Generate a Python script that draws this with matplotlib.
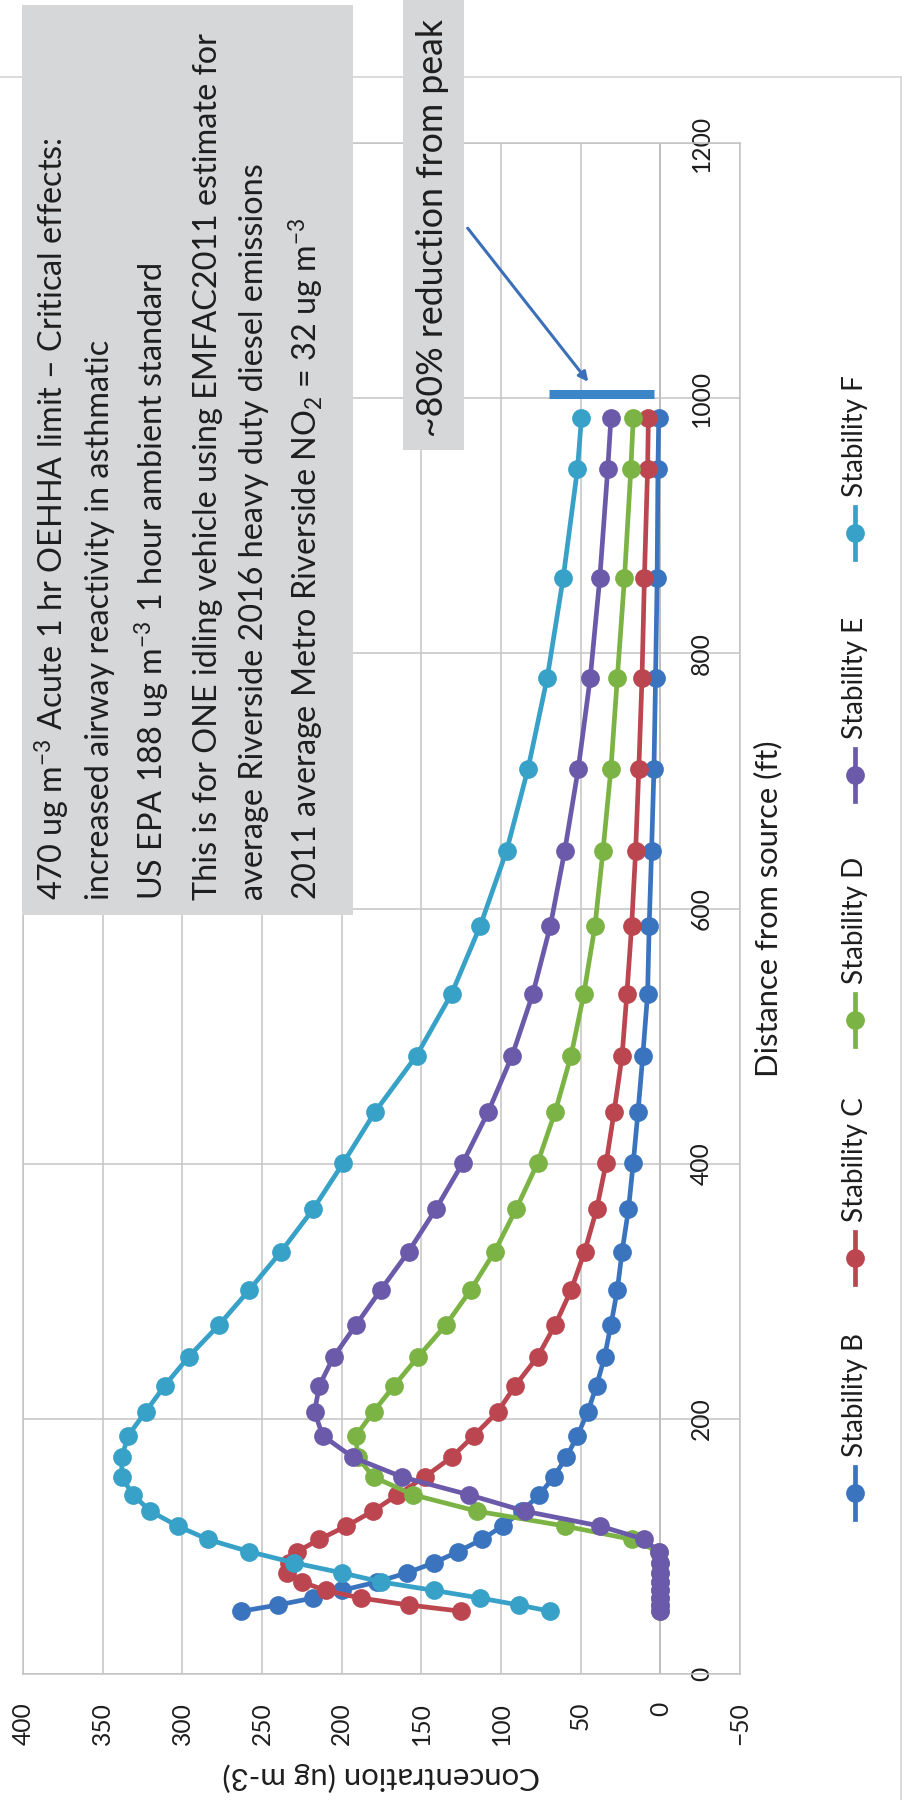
import matplotlib
matplotlib.use("Agg")
import matplotlib.pyplot as plt
from matplotlib.patches import Rectangle
from matplotlib.lines import Line2D

# distance from source (ft) -- same sampling for every stability class
distance_ft = [49.2, 54.1, 59.5, 65.5, 72.1, 79.3, 87.2, 95.9, 105.5, 116.0, 127.6,
               140.4, 154.4, 169.9, 186.9, 205.6, 226.1, 248.7, 273.6, 301.0, 331.1,
               364.2, 400.6, 440.7, 484.7, 533.2, 586.5, 645.2, 709.7, 780.7, 858.8,
               944.6, 984.3]

# concentration (ug m-3)
stab_b = [263, 240, 218, 200, 178, 159, 142, 127, 112, 99, 87, 76, 67, 59, 52, 45.5,
          40, 35, 31, 27, 24, 20, 17, 14, 11, 8, 7, 5.5, 4, 3, 2, 1.5, 1]
stab_c = [125, 158, 188, 210, 225, 234, 233, 228, 214, 197, 180.5, 165, 148, 131, 117,
          102, 91, 77, 66, 56, 47.5, 40, 34, 29, 24, 21, 18, 15.5, 13.5, 11.5, 10, 8, 7.5]
stab_d = [0, 0, 0, 0, 0, 0, 0, 1, 18, 60, 115, 155, 180, 190, 191, 180, 167, 152, 134.6,
          119, 104, 90.6, 77, 66, 56, 48, 41, 36, 31, 27, 22.5, 18.5, 17]
stab_e = [0, 0, 0, 0, 0, 0, 0, 1, 10, 38, 85, 120, 162, 193, 212, 217, 214, 205, 191,
          175.5, 158, 141, 124, 108, 93, 80, 69, 60, 51.5, 44, 38, 33, 31]
stab_f = [69, 89, 113, 142, 175, 200, 230, 258, 284, 303, 320, 331, 338, 338, 334, 323,
          311, 296, 277, 258, 238, 218, 199, 179, 153, 131, 113, 96.5, 83, 71, 61, 52, 49.5]

series_names = ["Stability B", "Stability C", "Stability D", "Stability E", "Stability F"]
series_colors = ["#3B74BE", "#BC4650", "#7BB444", "#6B5AAA", "#38A1C7"]

conc_ticks = [-50, 0, 50, 100, 150, 200, 250, 300, 350, 400]
dist_ticks = [0, 200, 400, 600, 800, 1000, 1200]

# the "~80% reduction" bar at 1000 ft
bar_dist = 1003
bar_conc = [70, 4]

box_lines = [
    "470 ug m$^{-3}$ Acute 1 hr OEHHA limit \u2013 Critical effects:",
    "increased airway reactivity in asthmatic",
    "US EPA 188 ug m$^{-3}$ 1 hour ambient standard",
    "This is for ONE idling vehicle using EMFAC2011 estimate for",
    "average Riverside 2016 heavy duty diesel emissions",
    "2011 average Metro Riverside NO$_2$ = 32 ug m$^{-3}$",
]
peak_note = "~80% reduction from peak"

plt.rcParams['font.family'] = ['Lato', 'DejaVu Sans']
plt.rcParams['mathtext.fontset'] = 'custom'
plt.rcParams['mathtext.rm'] = 'Lato'
plt.rcParams['mathtext.it'] = 'Lato:italic'
plt.rcParams['mathtext.bf'] = 'Lato:bold'
ink = "#1E1E1E"

W, H = 903, 1800
fig = plt.figure(figsize=(W / 100, H / 100), dpi=100)
renderer = fig.canvas.get_renderer()


def fx(px):
    return px / W


def fy(py):
    return 1 - py / H


def fit_size(text, target_px, trial=20.0):
    # font size that gives the text the wanted length in pixels
    t = fig.text(0, 0, text, fontsize=trial)
    w = t.get_window_extent(renderer).width
    t.remove()
    return trial * target_px / w


tick_fs = fit_size("1200", 57)
legend_fs = fit_size("Stability B", 124)
ylab_fs = fit_size("Distance from source (ft)", 337)
xlab_fs = fit_size("Concentration (ug m-3)", 318)
box_fs = fit_size(box_lines[3], 866)
note_fs = fit_size(peak_note, 418)

# outer chart border (top and right)
fig.add_artist(Line2D([0, fx(901)], [fy(77), fy(77)], color="#D4D4D4", lw=1.2))
fig.add_artist(Line2D([fx(901), fx(901)], [fy(77), 0], color="#D4D4D4", lw=1.2))

ax = fig.add_axes([fx(23), fy(1674), (740 - 23) / W, (1674 - 143) / H])
ax.set_facecolor("white")

series = [stab_b, stab_c, stab_d, stab_e, stab_f]
for vals, name, col in zip(series, series_names, series_colors):
    ax.plot(vals, distance_ft, color=col, lw=3.4, marker="o", ms=13.5,
            markeredgewidth=0, label=name, zorder=3)

ax.set_xlim(400, -50)
ax.set_ylim(0, 1200)
ax.set_xticks(conc_ticks)
ax.set_yticks(dist_ticks)
ax.grid(True, color="#C3C3C3", lw=1.1, zorder=0)
ax.axvline(0, color="#A8A8A8", lw=1.3, zorder=1)
for s in ax.spines.values():
    s.set_color("#C3C3C3")
    s.set_linewidth(1.1)

ax.yaxis.tick_right()
ax.tick_params(axis="x", length=0, pad=20, labelrotation=90, labelsize=tick_fs, colors=ink)
ax.tick_params(axis="y", length=0, pad=-36, labelrotation=90, labelsize=tick_fs, colors=ink)
for lab in ax.get_yticklabels():
    lab.set_verticalalignment("center")

ax.set_xlabel("Concentration (ug m-3)", fontsize=xlab_fs, rotation=180, color=ink)
ax.xaxis.label.set(va="center", ha="center")
ax.xaxis.set_label_coords(0.5, -(1777 - 1674) / 1531)

ax.yaxis.set_label_position("right")
ax.set_ylabel("Distance from source (ft)", fontsize=ylab_fs, rotation=90, color=ink)
ax.yaxis.label.set(va="center", ha="center", rotation_mode="default")
ax.yaxis.set_label_coords(1 + (768 - 740) / 717, 0.5)

# ~80% reduction bar and arrow
ax.plot(bar_conc, [bar_dist, bar_dist], color="#3B86C8", lw=6.5, solid_capstyle="butt", zorder=4)
ax.annotate("", xy=(fx(590), fy(384)), xycoords="figure fraction",
            xytext=(fx(466), fy(226)), textcoords="figure fraction",
            arrowprops=dict(arrowstyle="-|>", color="#3B6FB8", lw=2.2, mutation_scale=14))

# legend, drawn rotated like the rest of the chart
leg_x = 855
leg_y = [1493, 1258, 1020, 775, 533]
for name, col, yc in zip(series_names, series_colors, leg_y):
    fig.add_artist(Line2D([fx(leg_x), fx(leg_x)], [fy(yc + 26), fy(yc - 26)],
                          color=col, lw=3.4))
    fig.add_artist(Line2D([fx(leg_x)], [fy(yc)], color=col, marker="o", ms=13.5,
                          markeredgewidth=0))
    fig.text(fx(leg_x), fy(yc - 36), name, rotation=90, ha="center", va="bottom",
             fontsize=legend_fs, color=ink)

# grey annotation boxes
box_fill = "#D6D7D8"
fig.add_artist(Rectangle((fx(22), fy(915)), (353 - 22) / W, (915 - 5) / H,
                         facecolor=box_fill, edgecolor="none", zorder=5))
fig.add_artist(Rectangle((fx(403), fy(450)), (464 - 403) / W, 450 / H,
                         facecolor=box_fill, edgecolor="none", zorder=5))

line_x = [52, 100, 152, 208, 254, 306]
for s, xc in zip(box_lines, line_x):
    fig.text(fx(xc), fy(900), s, rotation=90, ha="center", va="bottom",
             fontsize=box_fs, color=ink, zorder=6)
fig.text(fx(433), fy(437), peak_note, rotation=90, ha="center",
         va="bottom", fontsize=note_fs, color=ink, zorder=6)

fig.savefig("out.png", dpi=100, facecolor="white")
